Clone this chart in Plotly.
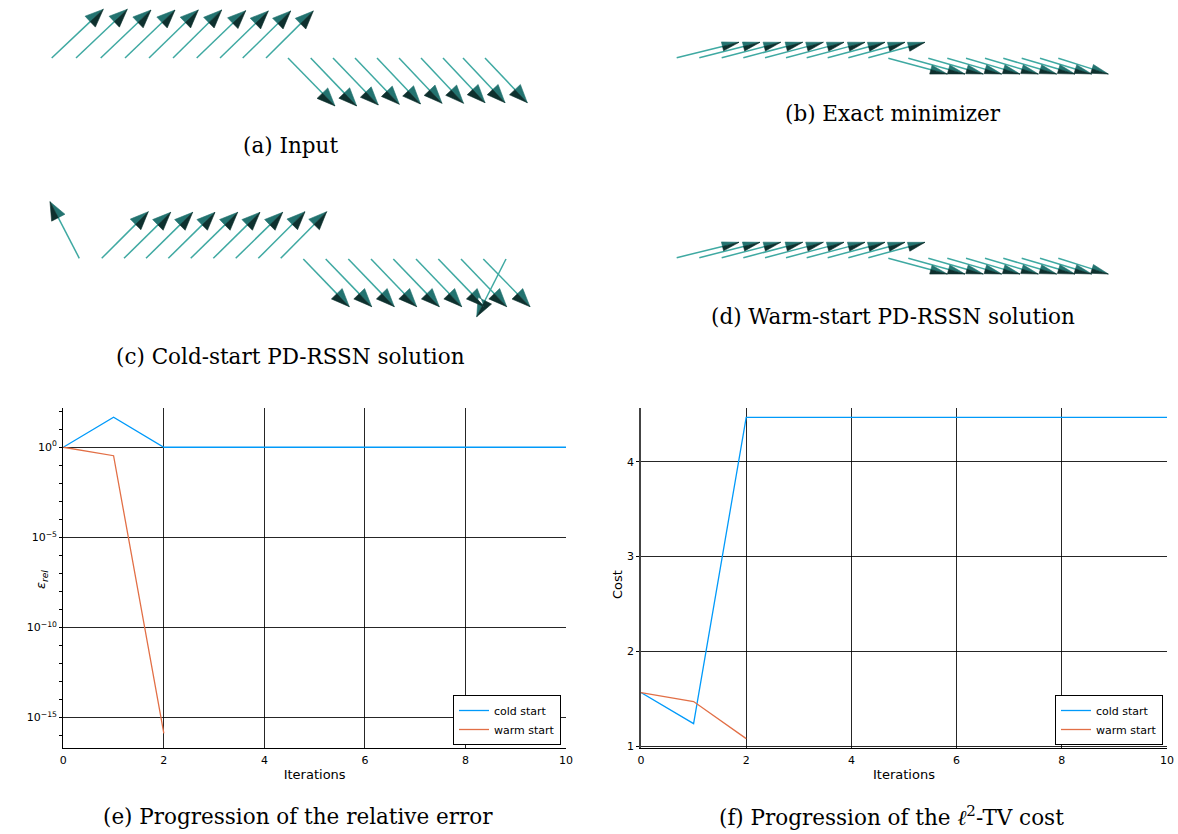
import numpy as np
import plotly.graph_objects as go

W, H = 1178, 834

# ---------------- convergence data ----------------
iters_cold = [0, 1, 2, 3, 4, 5, 6, 7, 8, 9, 10]
err_cold = [1.0, 46.0, 1.0, 1.0, 1.0, 1.0, 1.0, 1.0, 1.0, 1.0, 1.0]
cost_cold = [1.564, 1.236, 4.469, 4.469, 4.469, 4.469, 4.469, 4.469, 4.469, 4.469, 4.469]
iters_warm = [0, 1, 2]
err_warm = [1.0, 0.34, 1.3e-16]
cost_warm = [1.564, 1.469, 1.078]

err_tickvals = [1e-15, 1e-10, 1e-5, 1.0]
err_ticktext = ["10<sup>−15</sup>", "10<sup>−10</sup>", "10<sup>−5</sup>", "10<sup>0</sup>"]
err_minor = [10.0 ** k for k in range(-16, 3)]
cost_tickvals = [1, 2, 3, 4]
iter_tickvals = [0, 2, 4, 6, 8, 10]

# ---------------- arrow fields (projected, panel-local units) ----------------
# (a) Input
a_tail_x = [11.7, 36, 60.7, 85, 109, 133, 156.7, 180, 202.7, 226,
            248, 270.7, 293, 315, 337, 359, 381, 403, 423, 445]
a_tail_y = [58] * 10 + [58] * 10
a_dx = [51.6, 51.3, 50.3, 50, 49.3, 48.7, 49, 48.3, 48, 47.3,
        47, 46, 45.3, 44.3, 43.5, 43, 42.5, 42, 42, 42.3]
a_dy = [-48.7, -48.7, -48, -48, -48, -48, -47.3, -47, -47, -47,
        48, 48, 47, 46.3, 46, 45.3, 45.3, 44.7, 44.7, 44.7]

# (b) Exact minimizer
b_tail_x = [16.7, 39.3, 61.7, 83.3, 105, 126, 146.7, 167.7, 188.3, 208.3,
            228.3, 248.3, 268.3, 287.3, 306, 325, 343.3, 361.7, 380, 398.3]
b_tail_y = [37.7] * 10 + [38.3] * 10
b_dx = [62.3, 60.7, 59, 59.4, 58.3, 58, 58.3, 57.3, 56.7, 56.7,
        59, 56.7, 55, 54.4, 54, 53.3, 53.4, 53.3, 51.7, 50]
b_dy = [-15.4] * 10 + [15.7] * 10

# (c) Cold-start PD-RSSN solution
c_tail_x = [39.3, 61.7, 84, 106, 128.3, 150.7, 173.3, 195.7, 218.3, 240.7,
            263.3, 285.7, 308.3, 331, 353.3, 376, 398.3, 421, 443.3, 466]
c_tail_y = [68.3] * 10 + [69] * 10
c_dx = [-29.3, 46.6, 46.7, 46.7, 46.7, 47, 46.7, 47, 46.7, 46,
        46, 46, 46, 45.7, 46, 45.7, 46, 45.7, 46.7, -29.3]
c_dy = [-56.6, -46.6, -46, -46, -46, -46, -46, -46, -46.6, -46.6,
        47.7, 47.7, 47.7, 47.7, 47.7, 47.7, 47.7, 47.7, 47.7, 57.7]

# (d) Warm-start PD-RSSN solution
d_tail_x = [16.7, 39.3, 61.7, 83.3, 105, 126, 146.7, 167.7, 188.3, 208.3,
            228.3, 248.3, 268.3, 287.3, 306, 325, 343.3, 361.7, 380, 398.3]
d_tail_y = [37.7] * 10 + [38.3] * 10
d_dx = [62.3, 60.7, 59, 59.4, 58.3, 58, 58.3, 57.3, 56.7, 56.7,
        59, 56.7, 55, 54.4, 54, 53.3, 53.4, 53.3, 51.7, 50]
d_dy = [-15.4] * 10 + [15.7] * 10

captions = [
    "(a) Input", "(b) Exact minimizer",
    "(c) Cold-start PD-RSSN solution", "(d) Warm-start PD-RSSN solution",
    "(e) Progression of the relative error", "(f) Progression of the <i>ℓ</i><sup>2</sup>-TV cost",
]

# ---------------- styling ----------------
BLUE = "#009AFA"
ORANGE = "#E26F46"
SHAFT = "#3fa9a2"
HEAD_LIGHT = "#237370"
HEAD_DARK = "#0e302e"
GRID = "rgba(0,0,0,0.85)"
TICKFONT = dict(family="DejaVu Sans", size=11, color="black")
SERIF = "DejaVu Serif"

fig = go.Figure()

# ---------------- (e) relative error ----------------
fig.add_trace(go.Scatter(x=iters_cold, y=err_cold, mode="lines", name="cold start",
                         line=dict(color=BLUE, width=1.3), xaxis="x", yaxis="y", legend="legend"))
fig.add_trace(go.Scatter(x=iters_warm, y=err_warm, mode="lines", name="warm start",
                         line=dict(color=ORANGE, width=1.3), xaxis="x", yaxis="y", legend="legend"))
# ---------------- (f) cost ----------------
fig.add_trace(go.Scatter(x=iters_cold, y=cost_cold, mode="lines", name="cold start",
                         line=dict(color=BLUE, width=1.3), xaxis="x2", yaxis="y2", legend="legend2"))
fig.add_trace(go.Scatter(x=iters_warm, y=cost_warm, mode="lines", name="warm start",
                         line=dict(color=ORANGE, width=1.3), xaxis="x2", yaxis="y2", legend="legend2"))


def px_domain_x(l, r):
    return [l / W, r / W]


def px_domain_y(t, b):
    return [1 - b / H, 1 - t / H]


common_x = dict(showgrid=True, gridcolor=GRID, gridwidth=1, zeroline=False,
                showline=True, linecolor="black", linewidth=1.2, ticks="",
                tickfont=TICKFONT, tickvals=iter_tickvals, range=[0, 10],
                title=dict(text="Iterations", font=dict(family="DejaVu Sans", size=13, color="black"),
                           standoff=3),
                ticklabelstandoff=2, fixedrange=True, automargin=False)

layout = dict(
    width=W, height=H, margin=dict(l=0, r=0, t=0, b=0, pad=0, autoexpand=False),
    paper_bgcolor="white", plot_bgcolor="white", showlegend=True,
    xaxis=dict(common_x, domain=px_domain_x(63.3, 566), anchor="y"),
    yaxis=dict(type="log", domain=px_domain_y(408, 748), anchor="x", range=[-16.7, 2.18],
               tickmode="array", tickvals=err_tickvals, ticktext=err_ticktext,
               showgrid=True, gridcolor=GRID, gridwidth=1, zeroline=False,
               showline=True, linecolor="black", linewidth=1.2,
               ticks="outside", ticklen=3, tickcolor="black", tickfont=TICKFONT,
               minor=dict(tickmode="array", tickvals=err_minor, ticks="outside", ticklen=3,
                          tickcolor="black", showgrid=False),
               fixedrange=True, automargin=False),
    xaxis2=dict(common_x, domain=px_domain_x(641, 1167), anchor="y2"),
    yaxis2=dict(domain=px_domain_y(408, 748), anchor="x2", range=[0.979, 4.567],
                tickmode="array", tickvals=cost_tickvals,
                showgrid=True, gridcolor=GRID, gridwidth=1, zeroline=False,
                showline=True, linecolor="#444", linewidth=1.5,
                ticks="outside", ticklen=3, tickcolor="black", tickfont=TICKFONT,
                fixedrange=True, automargin=False),
    legend=dict(x=561 / W, xanchor="right", y=1 - 745 / H, yanchor="bottom",
                bgcolor="white", bordercolor="black", borderwidth=1,
                font=dict(family="DejaVu Sans", size=11, color="black"), itemwidth=30,
                tracegroupgap=0),
    legend2=dict(x=1163 / W, xanchor="right", y=1 - 745 / H, yanchor="bottom",
                 bgcolor="white", bordercolor="black", borderwidth=1,
                 font=dict(family="DejaVu Sans", size=11, color="black"), itemwidth=30,
                 tracegroupgap=0),
)

# ---------------- arrow panels ----------------
panels = [
    # (axis index, box left, top, right, bottom, data, head length, head half-width)
    (3, 40, 0, 540, 120, (a_tail_x, a_tail_y, a_dx, a_dy), 18, 7.5),
    (4, 660, 20, 1120, 100, (b_tail_x, b_tail_y, b_dx, b_dy), 17, 4.6),
    (5, 40, 190, 540, 330, (c_tail_x, c_tail_y, c_dx, c_dy), 18, 7.5),
    (6, 660, 220, 1120, 300, (d_tail_x, d_tail_y, d_dx, d_dy), 17, 4.6),
]

for idx, l, t, r, b, (tx, ty, dx, dy), L, w in panels:
    layout[f"xaxis{idx}"] = dict(domain=px_domain_x(l, r), range=[0, r - l], visible=False,
                                 anchor=f"y{idx}", fixedrange=True, automargin=False)
    layout[f"yaxis{idx}"] = dict(domain=px_domain_y(t, b), range=[b - t, 0], visible=False,
                                 anchor=f"x{idx}", fixedrange=True, automargin=False)
    sx, sy, lx, ly, kx, ky = [], [], [], [], [], []
    for x0, y0, u, v in zip(tx, ty, dx, dy):
        px, py = x0 + u, y0 + v
        n = float(np.hypot(u, v))
        ux, uy = u / n, v / n
        bx, by = px - L * ux, py - L * uy
        nx, ny = -uy, ux
        c1 = (bx + w * nx, by + w * ny)
        c2 = (bx - w * nx, by - w * ny)
        upper, lower = (c1, c2) if c1[1] < c2[1] else (c2, c1)
        sx += [x0, bx + 4 * ux, None]
        sy += [y0, by + 4 * uy, None]
        lx += [px, bx, upper[0], px, None]
        ly += [py, by, upper[1], py, None]
        kx += [px, bx, lower[0], px, None]
        ky += [py, by, lower[1], py, None]
    xa, ya = f"x{idx}", f"y{idx}"
    fig.add_trace(go.Scatter(x=sx, y=sy, mode="lines", line=dict(color=SHAFT, width=1.5),
                             xaxis=xa, yaxis=ya, showlegend=False, hoverinfo="skip"))
    fig.add_trace(go.Scatter(x=lx, y=ly, mode="lines", fill="toself", fillcolor=HEAD_LIGHT,
                             line=dict(color=HEAD_LIGHT, width=0.6),
                             xaxis=xa, yaxis=ya, showlegend=False, hoverinfo="skip"))
    fig.add_trace(go.Scatter(x=kx, y=ky, mode="lines", fill="toself", fillcolor=HEAD_DARK,
                             line=dict(color=HEAD_DARK, width=0.6),
                             xaxis=xa, yaxis=ya, showlegend=False, hoverinfo="skip"))

# ---------------- captions & y titles ----------------
cap_pos = [(290, 145), (893, 113), (290, 356), (893, 316), (298, 816), (891, 816)]
annotations = []
for text, (cx, cy) in zip(captions, cap_pos):
    annotations.append(dict(text=text, x=cx / W, y=1 - cy / H, xref="paper", yref="paper",
                            xanchor="center", yanchor="middle", showarrow=False,
                            font=dict(family=SERIF, size=21.5, color="black")))
annotations.append(dict(text="<i>ε</i><sub><i>rel</i></sub>", x=41 / W, y=1 - 580 / H,
                        xref="paper", yref="paper", textangle=-90, showarrow=False,
                        xanchor="center", yanchor="middle",
                        font=dict(family="DejaVu Sans", size=13, color="black")))
annotations.append(dict(text="Cost", x=617 / W, y=1 - 585 / H,
                        xref="paper", yref="paper", textangle=-90, showarrow=False,
                        xanchor="center", yanchor="middle",
                        font=dict(family="DejaVu Sans", size=13, color="black")))
layout["annotations"] = annotations

fig.update_layout(**layout)
fig.write_html("out.html", config={"displayModeBar": False, "responsive": False},
               post_script="document.body.style.margin='0px';")
